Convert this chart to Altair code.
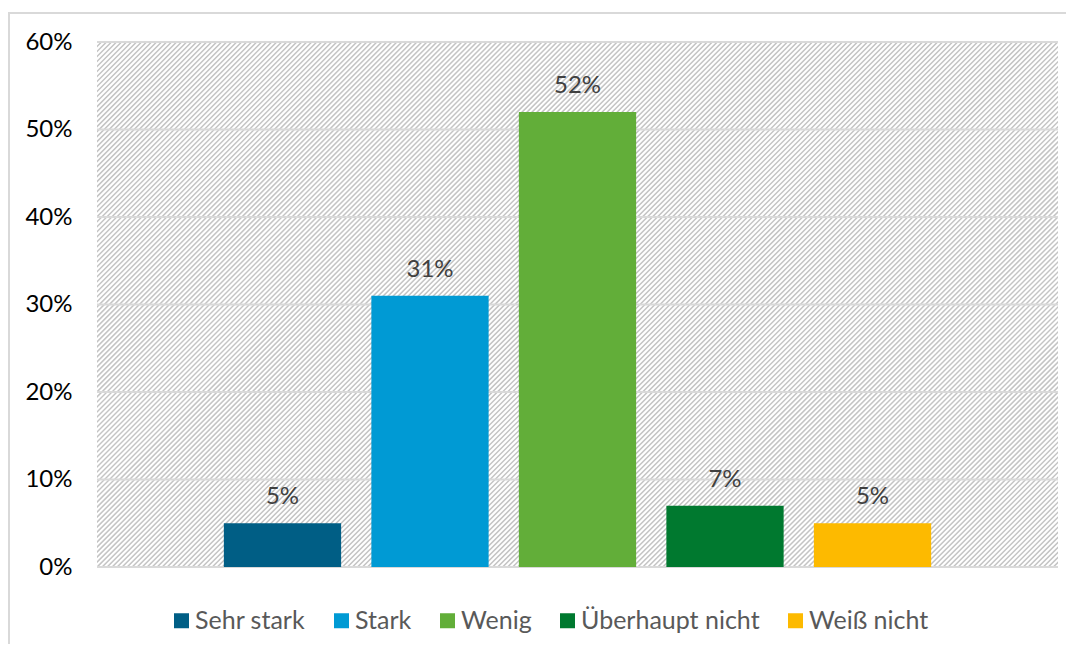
import altair as alt
import pandas as pd

categories = ["Sehr stark", "Stark", "Wenig", "Überhaupt nicht", "Weiß nicht"]
values = [0.05, 0.31, 0.52, 0.07, 0.05]
colors = ["#005E85", "#009AD4", "#62AE39", "#00792F", "#FDBA00"]
tick_values = [0.0, 0.1, 0.2, 0.3, 0.4, 0.5, 0.6]

W, H = 961, 525
FONT = "Lato"

bars_df = pd.DataFrame({"cat": categories, "val": values})
grid_df = pd.DataFrame({"tick": tick_values})
one_df = pd.DataFrame({"k": [0]})

ysc = alt.Scale(domain=[tick_values[0], tick_values[-1]], nice=False)
xsc = alt.Scale(paddingInner=0.205, paddingOuter=0.86)

# diagonal hatch: one very wide dashed stroke at 45 deg, clipped to the plot area
cx, cy, half = W / 2, H / 2, 540
hatch = alt.Chart(one_df).mark_rule(
    clip=True, color="#c4c4c4", strokeWidth=1600, strokeDash=[1.5, 2.04], strokeCap="butt"
).encode(
    x=alt.value(cx - half), y=alt.value(cy - half),
    x2=alt.value(cx + half), y2=alt.value(cy + half),
)

grid = alt.Chart(grid_df).mark_rule(color="#d9d9d9", strokeWidth=2).encode(
    y=alt.Y("tick:Q", scale=ysc, title=None),
)

bars = alt.Chart(bars_df).mark_bar().encode(
    x=alt.X("cat:N", sort=categories, scale=xsc, axis=None),
    y=alt.Y("val:Q", scale=ysc, title=None,
            axis=alt.Axis(values=tick_values, format=".0%", grid=False, domain=False,
                          ticks=False, labelPadding=25, labelFont=FONT, labelFontSize=24,
                          labelColor="#000000")),
    color=alt.Color("cat:N", sort=categories,
                    scale=alt.Scale(domain=categories, range=colors),
                    legend=alt.Legend(title=None, orient="none", direction="horizontal",
                                      legendX=72, legendY=566, symbolType="square",
                                      symbolSize=225, symbolStrokeWidth=0,
                                      labelFont=FONT, labelFontSize=25, labelLimit=400,
                                      labelColor="#595959", labelOffset=1,
                                      columnPadding=23, padding=0)),
)

labels = alt.Chart(bars_df).mark_text(
    dy=-19, baseline="alphabetic", font=FONT, fontSize=24, color="#404040"
).encode(
    x=alt.X("cat:N", sort=categories, scale=xsc, axis=None),
    y=alt.Y("val:Q", scale=ysc, title=None),
    text=alt.Text("val:Q", format=".0%"),
)

frame = alt.Chart(one_df).mark_rect(fillOpacity=0, stroke="#d9d9d9", strokeWidth=2).encode(
    x=alt.value(-88), x2=alt.value(W + 60), y=alt.value(-29), y2=alt.value(H + 150),
)

chart = alt.layer(hatch, grid, bars, labels, frame).properties(
    width=W, height=H,
    padding={"left": 89, "top": 34, "right": 8, "bottom": 77},
    autosize=alt.AutoSizeParams(type="none"),
    background="#ffffff",
).configure_view(strokeWidth=0)

chart.save("out.html", embed_options={"renderer": "svg", "actions": False})
